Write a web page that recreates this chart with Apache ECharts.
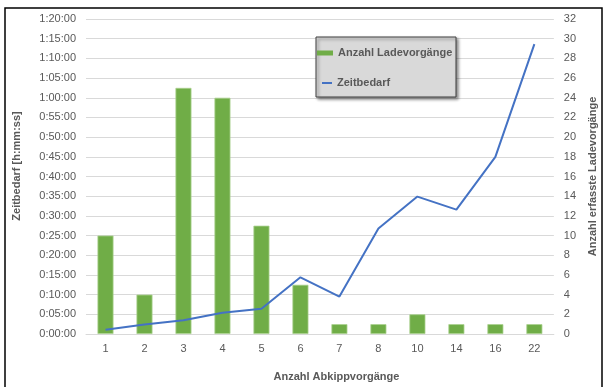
<!DOCTYPE html>
<html>
<head>
<meta charset="utf-8">
<script src="https://cdn.jsdelivr.net/npm/echarts@6/dist/echarts.min.js"></script>
<style>
html,body{margin:0;padding:0;background:#fff;}
#c{width:606px;height:387px;}
</style>
</head>
<body>
<div id="c"></div>
<script>
var categories = ['1','2','3','4','5','6','7','8','10','14','16','22'];
var ladevorgaenge = [10, 4, 25, 24, 11, 5, 1, 1, 2, 1, 1, 1];
// Zeitbedarf in minutes
var zeitbedarfMin = [1.1, 2.4, 3.5, 5.4, 6.4, 14.4, 9.5, 26.8, 34.9, 31.6, 45.0, 73.6];
var leftTicks = {min: 0, max: 80, interval: 5};
var rightTicks = {min: 0, max: 32, interval: 2};

function fmt(v) {
  var s = Math.round(v * 60);
  var h = Math.floor(s / 3600);
  var m = Math.floor((s % 3600) / 60);
  var sec = s % 60;
  return h + ':' + (m < 10 ? '0' : '') + m + ':' + (sec < 10 ? '0' : '') + sec;
}

var FONT = '"Liberation Sans", Arial, sans-serif';
var chart = echarts.init(document.getElementById('c'), null, {renderer: 'canvas'});
chart.setOption({
  animation: false,
  backgroundColor: '#ffffff',
  textStyle: {fontFamily: FONT},
  grid: {left: 86, right: 43, top: 19, bottom: 52.3, containLabel: false},
  graphic: [
    {type: 'rect', z: 0, shape: {x: 5, y: 8, width: 597, height: 400},
     style: {fill: 'none', stroke: '#000000', lineWidth: 1.5}},
    {type: 'rect', z: 1, shape: {x: 316, y: 37, width: 140, height: 60},
     style: {fill: '#d9d9d9', stroke: '#404040', lineWidth: 1,
             shadowBlur: 3, shadowOffsetX: 2, shadowOffsetY: 2, shadowColor: 'rgba(0,0,0,0.45)'}}
  ],
  legend: [
    {data: [{name: 'Anzahl Ladevorgänge', icon: 'rect'}], left: 317, top: 47.5, padding: 0,
     itemWidth: 16, itemHeight: 5, z: 10,
     itemStyle: {color: '#70ad47', borderWidth: 0},
     textStyle: {fontFamily: FONT, fontSize: 11, fontWeight: 'bold', color: '#595959'}},
    {data: [{name: 'Zeitbedarf', icon: 'rect'}], left: 322, top: 77.5, padding: 0,
     itemWidth: 10, itemHeight: 2, z: 10,
     itemStyle: {color: '#4472c4', borderWidth: 0},
     textStyle: {fontFamily: FONT, fontSize: 11, fontWeight: 'bold', color: '#595959'}}
  ],
  xAxis: {
    type: 'category', data: categories,
    axisLine: {lineStyle: {color: '#d9d9d9', width: 1}},
    axisTick: {show: false},
    axisLabel: {color: '#595959', fontSize: 11, fontFamily: FONT, margin: 9},
    name: 'Anzahl Abkippvorgänge', nameLocation: 'middle', nameGap: 37,
    nameTextStyle: {color: '#595959', fontSize: 11, fontWeight: 'bold', fontFamily: FONT, padding: [0, 0, 0, 33]}
  },
  yAxis: [
    {type: 'value', min: leftTicks.min, max: leftTicks.max, interval: leftTicks.interval,
     axisLine: {show: false}, axisTick: {show: false},
     splitLine: {lineStyle: {color: '#d9d9d9', width: 1}},
     axisLabel: {color: '#595959', fontSize: 11, fontFamily: FONT, margin: 10, formatter: fmt},
     name: 'Zeitbedarf [h:mm:ss]', nameLocation: 'middle', nameGap: 64,
     nameTextStyle: {color: '#595959', fontSize: 11, fontWeight: 'bold', fontFamily: FONT, padding: [0, 0, 0, 21]}},
    {type: 'value', position: 'right', min: rightTicks.min, max: rightTicks.max, interval: rightTicks.interval,
     axisLine: {show: false}, axisTick: {show: false}, splitLine: {show: false},
     axisLabel: {color: '#595959', fontSize: 11, fontFamily: FONT, margin: 10},
     name: 'Anzahl erfasste Ladevorgänge', nameLocation: 'middle', nameGap: 32,
     nameTextStyle: {color: '#595959', fontSize: 11, fontWeight: 'bold', fontFamily: FONT}}
  ],
  series: [
    {name: 'Anzahl Ladevorgänge', type: 'bar', yAxisIndex: 1, data: ladevorgaenge,
     barWidth: 16, itemStyle: {color: '#70ad47', borderColor: '#a9d18e', borderWidth: 0.8}},
    {name: 'Zeitbedarf', type: 'line', yAxisIndex: 0, data: zeitbedarfMin,
     symbol: 'none', lineStyle: {color: '#4472c4', width: 2}, itemStyle: {color: '#4472c4'}}
  ]
});
</script>
</body>
</html>
